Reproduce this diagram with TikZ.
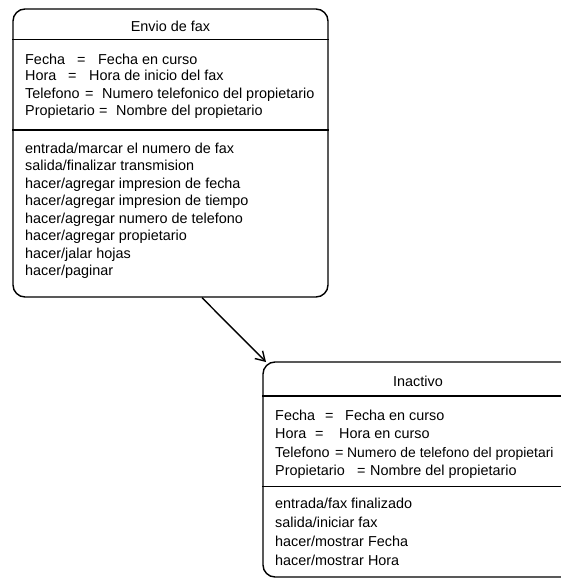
\documentclass[tikz,border=0pt]{standalone}
\usepackage{fontspec}
\setmainfont{Liberation Sans}
\usetikzlibrary{arrows.meta}
\begin{document}
\begin{tikzpicture}[x=1pt,y=-1pt,
  statebox/.style={draw,line width=1.4pt,rounded corners=12pt,inner sep=0pt},
  divider/.style={line width=1.2pt},
  txt/.style={anchor=base west,inner sep=0pt,font=\fontsize{14.4}{17}\selectfont},
  ttl/.style={anchor=base,inner sep=0pt,font=\fontsize{14.4}{17}\selectfont},
  trans/.style={line width=1.4pt,-{Straight Barb[length=9pt,width=11pt,line width=1.4pt]}}]
\clip (0,0) rectangle (561,578);

% ---------- state: Envio de fax ----------
\node[statebox,minimum width=315pt,minimum height=288pt] (envio) at (170.5,153) {};
\draw[divider] (envio.west |- 0,39.5) -- (envio.east |- 0,39.5);
\draw[divider] (envio.west |- 0,130) -- (envio.east |- 0,130);
\node[ttl] (envioT) at (170.5,31.5) {Envio de fax};

\node[txt] (e1a) at (25,64) {Fecha};
\node[txt] (e1b) at (77,64) {=};
\node[txt] (e1c) at (98,64) {Fecha en curso};
\node[txt] (e2a) at (25,81) {Hora};
\node[txt] (e2b) at (68,81) {=};
\node[txt] (e2c) at (89,81) {Hora de inicio del fax};
\node[txt] (e3a) at (25,98) {Telefono};
\node[txt] (e3b) at (85,98) {=};
\node[txt] (e3c) at (102,98) {Numero telefonico del propietario};
\node[txt] (e4a) at (25,115) {Propietario};
\node[txt] (e4b) at (99,115) {=};
\node[txt] (e4c) at (116,115) {Nombre del propietario};

\node[txt] (eo1) at (25,153) {entrada/marcar el numero de fax};
\node[txt] (eo2) at (25,170.5) {salida/finalizar transmision};
\node[txt] (eo3) at (25,188) {hacer/agregar impresion de fecha};
\node[txt] (eo4) at (25,205.5) {hacer/agregar impresion de tiempo};
\node[txt] (eo5) at (25,223) {hacer/agregar numero de telefono};
\node[txt] (eo6) at (25,240.5) {hacer/agregar propietario};
\node[txt] (eo7) at (25,258) {hacer/jalar hojas};
\node[txt] (eo8) at (25,275.5) {hacer/paginar};

% ---------- state: Inactivo ----------
\node[statebox,minimum width=357pt,minimum height=215pt] (inact) at (441.5,469.5) {};
\draw[divider] (inact.west |- 0,396) -- (inact.east |- 0,396);
\draw[divider] (inact.west |- 0,486.5) -- (inact.east |- 0,486.5);
\node[ttl] (inactT) at (418,386) {Inactivo};

\node[txt] (i1a) at (275,420) {Fecha};
\node[txt] (i1b) at (325,420) {=};
\node[txt] (i1c) at (345,420) {Fecha en curso};
\node[txt] (i2a) at (275,438.5) {Hora};
\node[txt] (i2b) at (315,438.5) {=};
\node[txt] (i2c) at (339,438.5) {Hora en curso};
\node[txt] (i3a) at (275,457) {Telefono};
\node[txt] (i3b) at (335,457) {=};
\node[txt,font=\fontsize{13.9}{17}\selectfont] (i3c) at (347,457) {Numero de telefono del propietari};
\node[txt] (i4a) at (275,475.5) {Propietario};
\node[txt] (i4b) at (357,475.5) {=};
\node[txt] (i4c) at (370,475.5) {Nombre del propietario};

\node[txt] (io1) at (275,508) {entrada/fax finalizado};
\node[txt] (io2) at (275,527) {salida/iniciar fax};
\node[txt] (io3) at (275,546) {hacer/mostrar Fecha};
\node[txt] (io4) at (275,565) {hacer/mostrar Hora};

% ---------- transition ----------
\coordinate (tStart) at (envio.south -| 202,0);
\coordinate (tEnd) at (266,362);
\draw[trans] (tStart) -- (tEnd);
\end{tikzpicture}
\end{document}
